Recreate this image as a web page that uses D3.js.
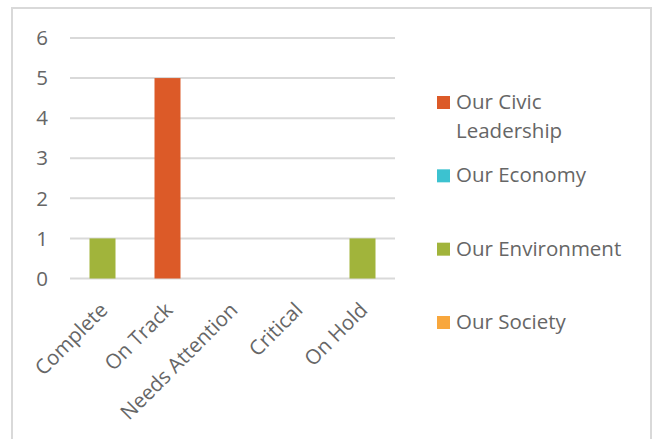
<!DOCTYPE html>
<html>
<head>
<meta charset="utf-8">
<script src="https://cdn.jsdelivr.net/npm/d3@7"></script>
<style>
  body { margin: 0; background: #fff; }
  text { font-family: "Open Sans", sans-serif; fill: #666; }
</style>
</head>
<body>
<svg id="chart"></svg>
<script>
const categories = ["Complete", "On Track", "Needs Attention", "Critical", "On Hold"]
const seriesNames = ["Our Civic Leadership", "Our Economy", "Our Environment", "Our Society"]
const civicValues = [0, 5, 0, 0, 0]
const economyValues = [0, 0, 0, 0, 0]
const environmentValues = [1, 0, 0, 0, 1]
const societyValues = [0, 0, 0, 0, 0]
const yTicks = [0, 1, 2, 3, 4, 5, 6]
const legendLines = [["Our Civic", "Leadership"], ["Our Economy"], ["Our Environment"], ["Our Society"]]

const colors = ["#dc5a28", "#3cc2d0", "#a1b43b", "#f8a73d"]

const dimensions = {
  width: 657,
  height: 439,
  margin: { top: 38, right: 262, bottom: 160, left: 70 },
}

const fontSize = "20.5px"

const svg = d3.select("#chart")
  .attr("width", dimensions.width)
  .attr("height", dimensions.height)

// outer frame (bottom edge runs off the picture)
svg.append("rect")
  .attr("x", 12).attr("y", 8)
  .attr("width", 639).attr("height", 460)
  .attr("fill", "none")
  .attr("stroke", "#d9d9d9")
  .attr("stroke-width", 2)

const series = [civicValues, economyValues, environmentValues, societyValues]

const xScale = d3.scaleBand()
  .domain(categories)
  .range([dimensions.margin.left, dimensions.width - dimensions.margin.right])
  .paddingInner(0.6)
  .paddingOuter(0.3)

const yScale = d3.scaleLinear()
  .domain([0, 6])
  .range([dimensions.height - dimensions.margin.bottom - 0.5, dimensions.margin.top])

// gridlines
svg.append("g")
  .selectAll("line")
  .data(yTicks)
  .enter()
  .append("line")
  .attr("x1", dimensions.margin.left)
  .attr("x2", dimensions.width - dimensions.margin.right)
  .attr("y1", d => yScale(d))
  .attr("y2", d => yScale(d))
  .attr("stroke", "#d9d9d9")
  .attr("stroke-width", 2)

// y tick labels
svg.append("g")
  .selectAll("text")
  .data(yTicks)
  .enter()
  .append("text")
  .attr("x", 48)
  .attr("y", d => yScale(d))
  .attr("dy", "0.35em")
  .attr("text-anchor", "end")
  .attr("font-size", fontSize)
  .text(d => d)

// bars, 100% overlap so every series sits in the middle of its category
series.forEach(function(values, s) {
  svg.append("g")
    .selectAll("rect")
    .data(values)
    .enter()
    .append("rect")
    .attr("x", (d, i) => xScale(categories[i]))
    .attr("y", d => yScale(d))
    .attr("width", xScale.bandwidth())
    .attr("height", d => yScale(0) - yScale(d))
    .attr("fill", colors[s])
})

// category labels, rotated
svg.append("g")
  .selectAll("text")
  .data(categories)
  .enter()
  .append("text")
  .attr("transform", d => `translate(${xScale(d) + xScale.bandwidth() / 2 - 4}, 301) rotate(-45)`)
  .attr("text-anchor", "end")
  .attr("dy", "0.71em")
  .attr("font-size", fontSize)
  .text(d => d)

// legend
const legendY = d3.scalePoint()
  .domain(seriesNames)
  .range([109, 329])

const legend = svg.append("g")
  .selectAll("g")
  .data(seriesNames)
  .enter()
  .append("g")
  .attr("transform", d => `translate(437, ${legendY(d)})`)

legend.append("rect")
  .attr("x", 0)
  .attr("y", -13)
  .attr("width", 13)
  .attr("height", 13)
  .attr("fill", (d, i) => colors[i])

legend.append("text")
  .attr("x", 19)
  .attr("y", 0)
  .attr("font-size", fontSize)
  .selectAll("tspan")
  .data((d, i) => legendLines[i])
  .enter()
  .append("tspan")
  .attr("x", 19)
  .attr("dy", (d, i) => i === 0 ? 0 : 29)
  .text(d => d)
</script>
</body>
</html>
